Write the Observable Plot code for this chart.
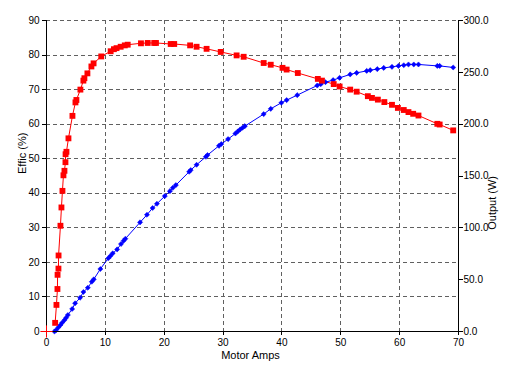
<!DOCTYPE html>
<html>
<head>
<meta charset="utf-8">
<script src="https://cdn.jsdelivr.net/npm/d3@7"></script>
<script src="https://cdn.jsdelivr.net/npm/@observablehq/plot@0.6"></script>
<style>
  html, body { margin: 0; padding: 0; background: #ffffff; }
  #chart { width: 510px; height: 370px; }
</style>
</head>
<body>
<div id="chart"></div>
<script>
// Efficiency (%) vs motor current (A)
const effAmps = [1.47, 1.69, 1.86, 1.88, 2.03, 2.05, 2.37, 2.54, 2.71, 2.88, 3.05, 3.22, 3.24, 3.39, 3.73, 4.41, 4.92, 5.08, 5.76, 6.27, 6.44, 6.95, 7.63, 8.0, 9.3, 10.9, 11.45, 11.9, 12.6, 13.3, 13.8, 16.05, 17.2, 18.3, 18.6, 21.1, 21.7, 24.4, 25.5, 27.2, 29.6, 32.3, 33.5, 36.9, 38.1, 40.1, 40.8, 42.7, 46.1, 46.8, 48.8, 49.8, 51.6, 52.7, 54.6, 55.3, 56.3, 57.4, 58.7, 59.7, 60.7, 61.5, 62.3, 63.2, 66.4, 66.8, 69.1];
const effValues = [2.5, 7.7, 12.3, 16.4, 18.2, 22.0, 30.6, 35.9, 40.7, 45.2, 46.5, 49.0, 51.3, 52.0, 55.9, 62.4, 66.3, 67.0, 70.0, 72.6, 73.3, 74.7, 76.7, 77.6, 79.6, 81.1, 81.7, 82.0, 82.4, 82.8, 83.0, 83.4, 83.5, 83.5, 83.5, 83.2, 83.2, 82.8, 82.4, 81.8, 80.9, 79.9, 79.5, 77.7, 77.2, 76.3, 75.8, 74.8, 73.1, 72.6, 71.6, 70.9, 70.0, 69.4, 68.1, 67.6, 67.1, 66.4, 65.6, 64.7, 64.1, 63.5, 63.0, 62.5, 60.1, 59.9, 58.2];

// Output (W) vs motor current (A)
const outAmps = [1.36, 1.64, 2.03, 2.37, 2.66, 3.05, 3.34, 3.63, 4.36, 4.86, 5.71, 6.27, 7.02, 7.7, 8.03, 9.15, 10.5, 10.85, 11.25, 12.0, 12.66, 13.1, 13.4, 15.9, 17.07, 18.03, 18.76, 20.1, 20.97, 21.47, 21.98, 24.24, 24.5, 25.5, 27.07, 27.36, 29.3, 29.7, 30.85, 32.1, 32.5, 32.9, 33.3, 33.7, 36.9, 38.1, 39.9, 40.8, 42.6, 46.0, 46.6, 47.4, 48.7, 49.8, 51.6, 52.7, 54.4, 55.0, 56.2, 57.3, 58.7, 59.8, 60.7, 61.5, 62.4, 63.2, 66.4, 66.8, 69.1];
const outWatts = [0, 1.4, 4.0, 6.3, 8.5, 11.0, 13.3, 15.9, 21.7, 27.2, 32.6, 38.1, 42.2, 48.0, 50.3, 60.3, 70.6, 72.8, 75.4, 79.2, 84.4, 87.5, 89.5, 105.3, 112.6, 119.1, 123.2, 130.6, 135.4, 138.6, 141.2, 154.1, 155.7, 160.8, 168.5, 170.2, 179.1, 180.8, 185.6, 191.0, 193.0, 194.9, 196.5, 198.1, 209.7, 214.8, 220.6, 223.2, 228.0, 237.3, 238.6, 240.5, 242.5, 244.7, 248.0, 249.5, 251.4, 252.1, 253.1, 254.3, 255.3, 256.2, 256.9, 257.6, 257.6, 257.6, 256.2, 256.2, 254.7];

// Origin marker
const originAmps = [0];
const originEff = [0];

// Tick values
const xTicks = [0, 10, 20, 30, 40, 50, 60, 70];
const effTicks = [0, 10, 20, 30, 40, 50, 60, 70, 80, 90];
const wattTicks = [0, 50, 100, 150, 200, 250, 300];

const wattMax = 300, effMax = 90;
const k = effMax / wattMax; // watts -> efficiency-axis units

const effData = effAmps.map((a, i) => ({a, v: effValues[i]}));
const outData = outAmps.map((a, i) => ({a, v: outWatts[i] * k}));
const originData = originAmps.map((a, i) => ({a, v: originEff[i]}));

const gridStyle = {stroke: "#606060", strokeOpacity: 1, strokeWidth: 1, strokeDasharray: "4,3", shapeRendering: "crispEdges"};

const chart = Plot.plot({
  width: 510,
  height: 370,
  marginLeft: 46,
  marginRight: 52,
  marginTop: 20,
  marginBottom: 39,
  style: {fontFamily: "'Liberation Sans', Arial, sans-serif", fontSize: "10px", background: "#ffffff", color: "#000000", overflow: "visible"},
  x: {domain: [0, 70]},
  y: {domain: [0, 90]},
  marks: [
    Plot.gridX(xTicks.slice(1, -1), gridStyle),
    Plot.gridY(effTicks.slice(1), gridStyle),
    Plot.axisX(xTicks, {tickSize: 4, tickPadding: 3, label: null, shapeRendering: "crispEdges"}),
    Plot.axisY(effTicks, {anchor: "left", tickSize: 4, tickPadding: 3, label: null, shapeRendering: "crispEdges"}),
    Plot.axisY(wattTicks.map(w => w * k), {anchor: "right", tickSize: 4, tickPadding: 1, label: null, tickFormat: d => (d / k).toFixed(1), shapeRendering: "crispEdges"}),
    Plot.line(effData, {x: "a", y: "v", stroke: "#ff0000", strokeWidth: 1}),
    Plot.line(outData, {x: "a", y: "v", stroke: "#0000ff", strokeWidth: 1}),
    Plot.dot(outData, {x: "a", y: "v", symbol: "diamond2", r: 2.3, fill: "#0000ff", stroke: "#0000ff", strokeWidth: 0.5}),
    Plot.dot(effData, {x: "a", y: "v", symbol: "square", r: 3.3, fill: "#ff0000", stroke: "none"}),
    Plot.ruleX([0, 70], {stroke: "#000000", strokeWidth: 1, shapeRendering: "crispEdges"}),
    Plot.ruleY([0], {stroke: "#000000", strokeWidth: 1, shapeRendering: "crispEdges"}),
    Plot.dot(originData, {x: "a", y: "v", symbol: "plus", r: 4, stroke: "#ff0000", strokeWidth: 1}),
    Plot.text(["Motor Amps"], {frameAnchor: "bottom", dx: -2, dy: 24, lineAnchor: "middle", fontSize: 11}),
    Plot.text(["Effic (%)"], {frameAnchor: "left", rotate: -90, dx: -24, dy: -2, lineAnchor: "middle", fontSize: 11}),
    Plot.text(["Output (W)"], {frameAnchor: "right", rotate: -90, dx: 34, dy: 0, lineAnchor: "middle", fontSize: 11})
  ]
});

document.getElementById("chart").appendChild(chart);
</script>
</body>
</html>
